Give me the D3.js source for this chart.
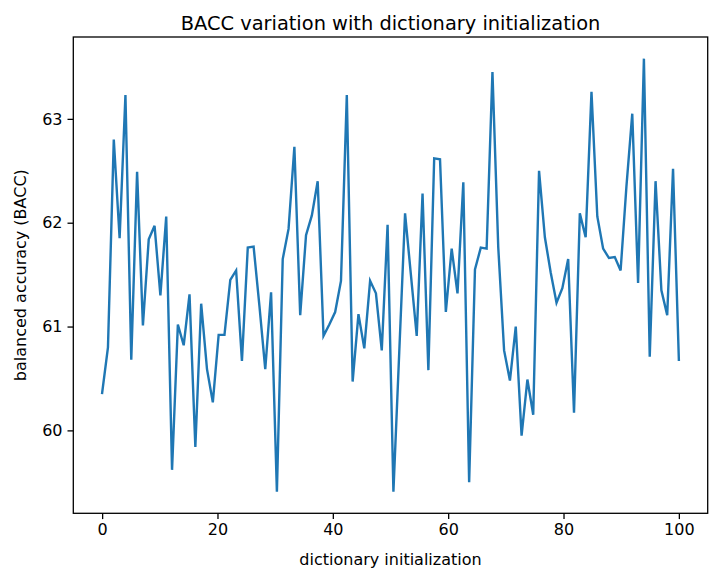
<!DOCTYPE html>
<html>
<head>
<meta charset="utf-8">
<script src="https://cdn.jsdelivr.net/npm/d3@7"></script>
<style>
  body { margin: 0; background: #fff; }
  svg text { font-family: "DejaVu Sans", sans-serif; fill: #000; }
</style>
</head>
<body>
<script>
var width = 709, height = 571;

// balanced accuracy for each of the 100 dictionary initializations
var bacc = [
  60.36, 60.80, 62.80, 61.85, 63.23, 60.68, 62.49, 61.01, 61.84, 61.97,
  61.30, 62.06, 59.62, 61.02, 60.82, 61.31, 59.84, 61.22, 60.59, 60.27,
  60.92, 60.92, 61.45, 61.54, 60.67, 61.76, 61.77, 61.20, 60.59, 61.33,
  59.41, 61.65, 61.94, 62.73, 61.11, 61.88, 62.07, 62.40, 60.91, 61.02,
  61.14, 61.44, 63.23, 60.47, 61.12, 60.79, 61.44, 61.32, 60.77, 61.98,
  59.41, 60.75, 62.09, 61.50, 60.91, 62.28, 60.58, 62.62, 62.61, 61.14,
  61.75, 61.32, 62.39, 59.50, 61.55, 61.76, 61.75, 63.45, 61.76, 60.77,
  60.48, 61.00, 59.95, 60.49, 60.15, 62.50, 61.86, 61.52, 61.23, 61.37,
  61.65, 60.17, 62.09, 61.86, 63.26, 62.06, 61.75, 61.66, 61.67, 61.54,
  62.35, 63.05, 61.42, 63.58, 60.71, 62.40, 61.35, 61.11, 62.52, 60.68
];
// x runs from 0 to 100 in 100 evenly spaced steps (linspace)
var xStart = 0, xEnd = 100;
var xTicks = [0, 20, 40, 60, 80, 100];
var yTicks = [60, 61, 62, 63];

var titleText = "BACC variation with dictionary initialization";
var xLabel = "dictionary initialization";
var yLabel = "balanced accuracy (BACC)";

var data = bacc.map(function(v, i) {
  return { x: xStart + i * (xEnd - xStart) / (bacc.length - 1), y: v };
});

var margin = { left: 73.3, top: 37, right: width - 707.7, bottom: height - 513.3 };
var plotW = width - margin.left - margin.right,
    plotH = height - margin.top - margin.bottom;

// matplotlib style 5% padding
var xPad = (xEnd - xStart) * 0.05;
var yMin = d3.min(bacc), yMax = d3.max(bacc), yPad = (yMax - yMin) * 0.05;

var x = d3.scaleLinear().domain([xStart - xPad, xEnd + xPad]).range([0, plotW]);
var y = d3.scaleLinear().domain([yMin - yPad, yMax + yPad]).range([plotH, 0]);

var svg = d3.select("body")
    .append("svg")
    .attr("width", width)
    .attr("height", height);

var g = svg.append("g")
    .attr("transform", "translate(" + margin.left + "," + margin.top + ")");

var line = d3.line()
    .x(function(d) { return x(d.x); })
    .y(function(d) { return y(d.y); });

g.append("path")
    .datum(data)
    .attr("fill", "none")
    .attr("stroke", "#1f77b4")
    .attr("stroke-width", 2.4)
    .attr("stroke-linejoin", "miter")
    .attr("stroke-linecap", "square")
    .attr("d", line);

var xAxis = g.append("g")
    .attr("transform", "translate(0," + plotH + ")")
    .call(d3.axisBottom(x).tickValues(xTicks).tickSize(5.8).tickPadding(5).tickFormat(d3.format("d")));

var yAxis = g.append("g")
    .call(d3.axisLeft(y).tickValues(yTicks).tickSize(5.8).tickPadding(5).tickFormat(d3.format("d")));

[xAxis, yAxis].forEach(function(a) {
  a.select(".domain").remove();
  a.selectAll(".tick line").attr("stroke", "#000").attr("stroke-width", 1.3);
  a.selectAll(".tick text").attr("font-size", 16).attr("font-family", "DejaVu Sans").attr("fill", "#000");
});

// frame
g.append("rect")
    .attr("width", plotW)
    .attr("height", plotH)
    .attr("fill", "none")
    .attr("stroke", "#000")
    .attr("stroke-width", 1.3);

svg.append("text")
    .attr("x", margin.left + plotW / 2)
    .attr("y", 30)
    .attr("text-anchor", "middle")
    .attr("font-size", 19.4)
    .text(titleText);

svg.append("text")
    .attr("x", margin.left + plotW / 2)
    .attr("y", 565)
    .attr("text-anchor", "middle")
    .attr("font-size", 16)
    .text(xLabel);

svg.append("text")
    .attr("transform", "translate(26," + (margin.top + plotH / 2) + ") rotate(-90)")
    .attr("text-anchor", "middle")
    .attr("font-size", 16)
    .text(yLabel);
</script>
</body>
</html>
